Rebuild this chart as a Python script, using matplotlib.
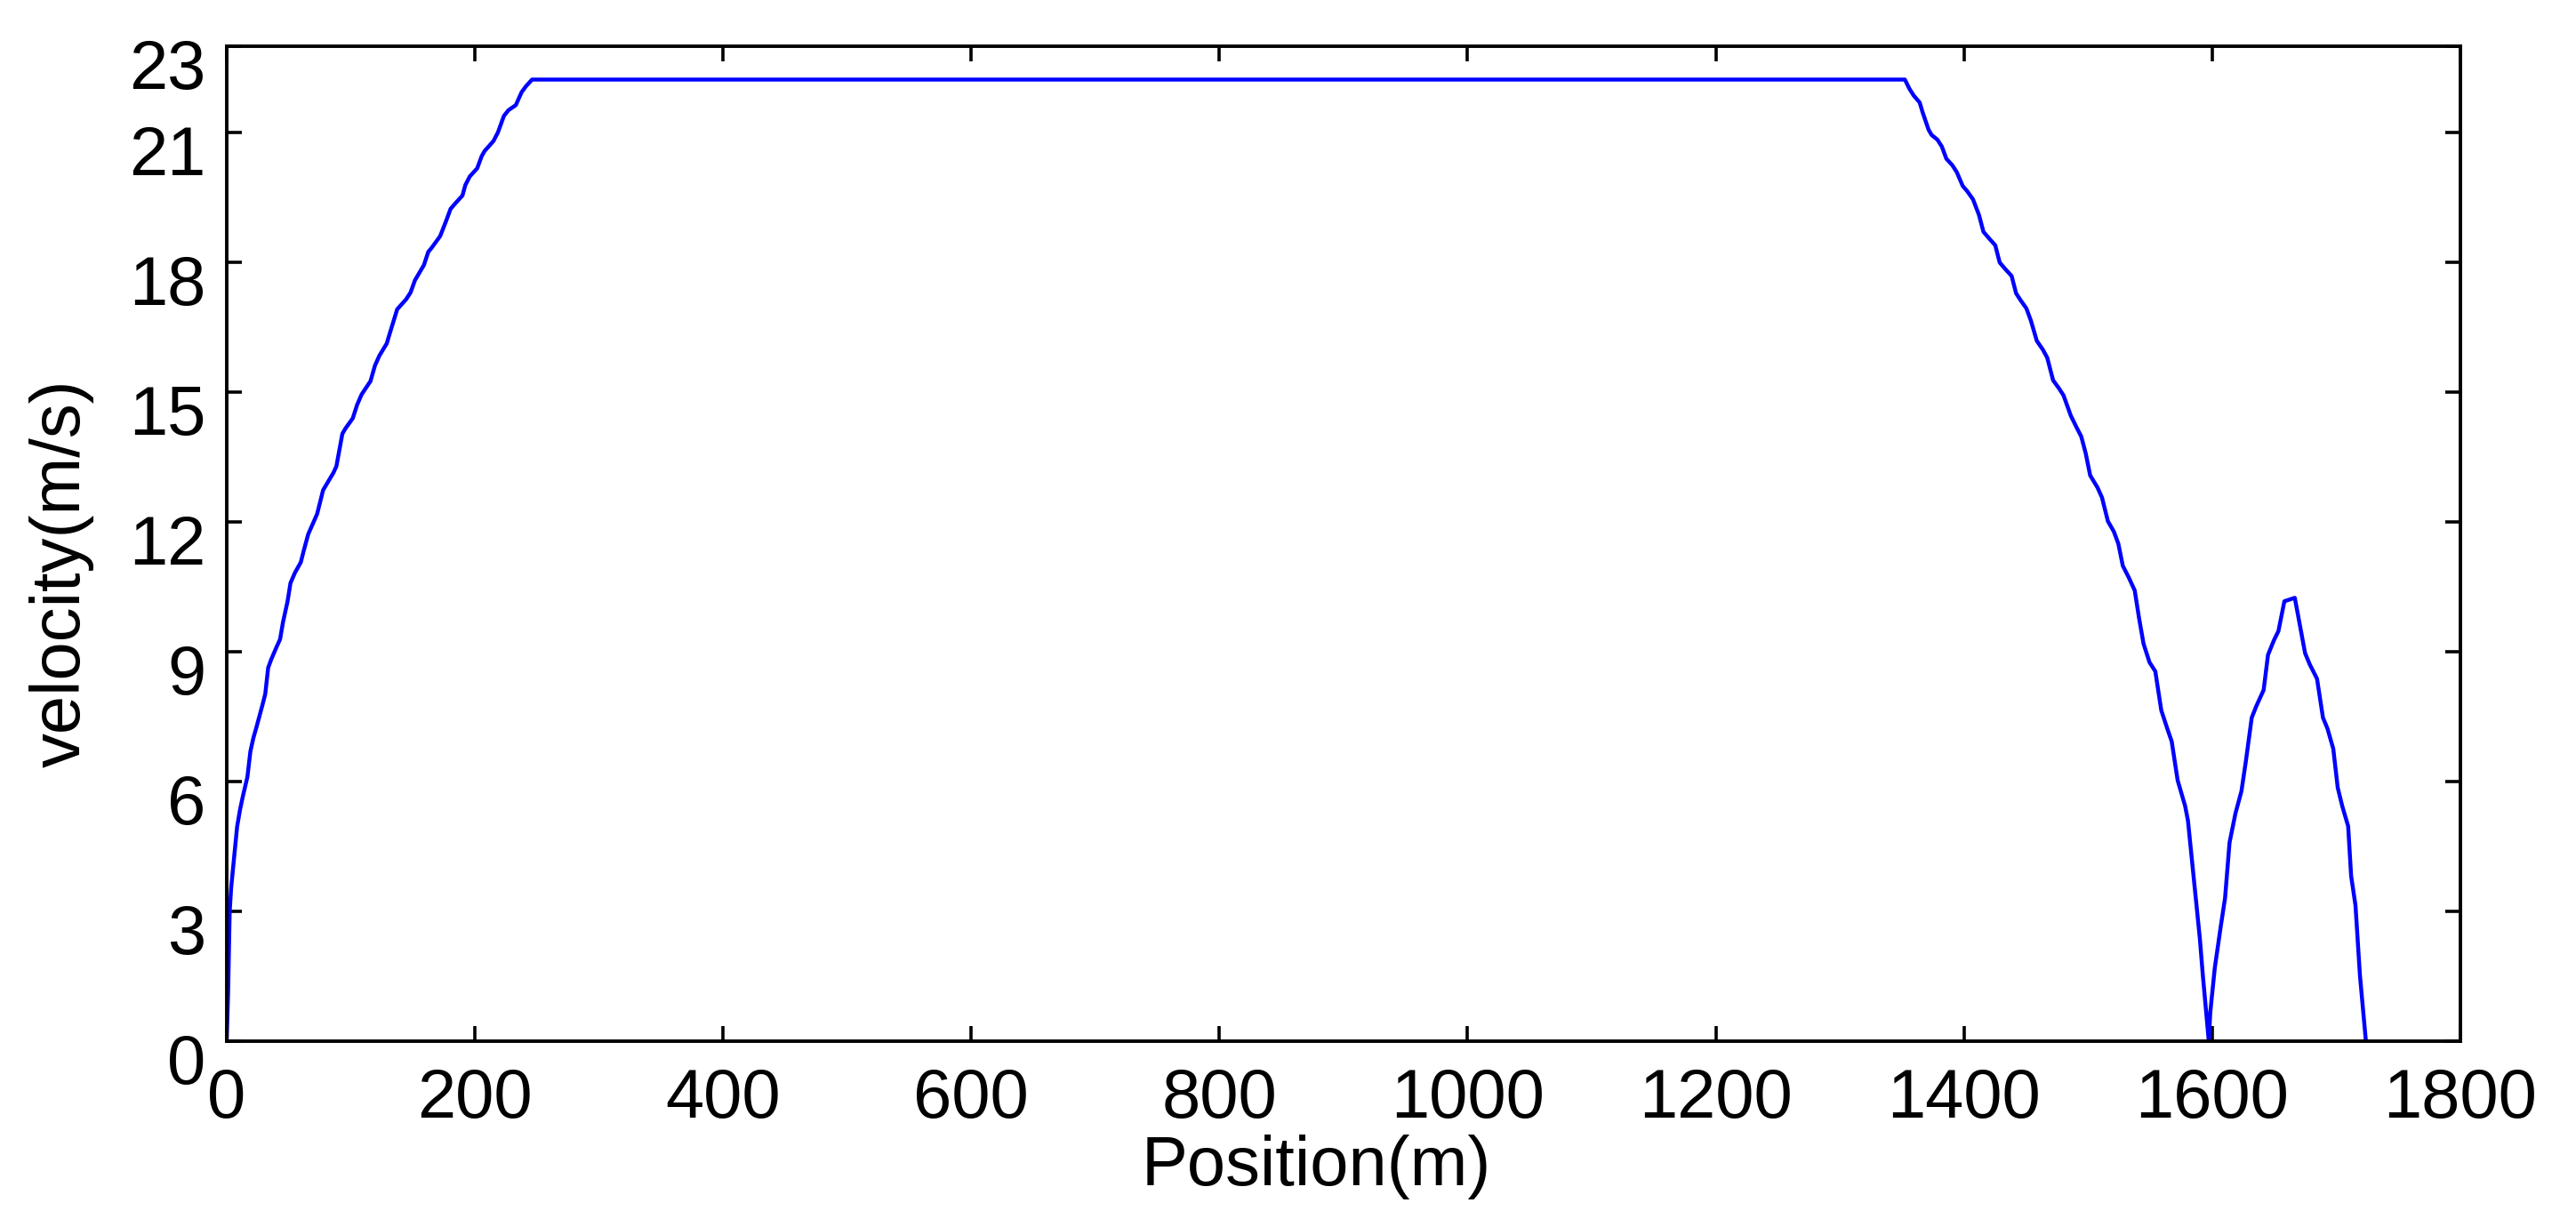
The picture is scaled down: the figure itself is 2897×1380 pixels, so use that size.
#!/usr/bin/env python3
"""Velocity profile vs position (MATLAB-style figure)."""
import matplotlib
matplotlib.use('Agg')
import matplotlib.pyplot as plt
import matplotlib.transforms as mtransforms

plt.rcParams['font.family'] = ['Liberation Sans', 'DejaVu Sans']

# ── data ──
pos_m = [0, 1.2, 2.4, 3.6, 6.0, 8.4, 10.8, 13.1, 16.7, 19.1, 21.5, 23.9, 28.7, 31.1,
         33.4, 35.8, 40.6, 43.0, 45.4, 49.0, 51.4, 55.0, 59.7, 62.1, 65.7, 72.9,
         77.7, 86.0, 88.4, 93.2, 95.6, 101.6, 105.1, 108.7, 115.9, 119.5, 123.1,
         129.0, 131.4, 137.4, 144.6, 148.2, 151.7, 158.9, 162.5, 164.9, 172.0,
         176.8, 180.4, 184.0, 190.0, 192.3, 195.9, 201.9, 205.5, 207.9, 215.0,
         218.6, 223.4, 227.0, 233.0, 237.7, 241.3, 246.1,
         1352.4, 1356.0, 1359.5, 1364.3, 1366.7, 1371.5, 1373.9, 1378.6, 1382.2,
         1385.8, 1390.6, 1394.2, 1399.0, 1402.6, 1407.3, 1412.1, 1415.7, 1420.5,
         1425.2, 1428.8, 1433.6, 1438.4, 1442.0, 1445.6, 1450.3, 1453.9, 1458.7,
         1463.5, 1467.1, 1471.8, 1476.6, 1480.2, 1486.1, 1490.9, 1494.5, 1498.1,
         1501.7, 1507.6, 1511.2, 1516.0, 1520.8, 1524.4, 1528.0, 1532.8,
         1537.6, 1541.1, 1544.7, 1549.5, 1554.2, 1559.0, 1563.8, 1567.4, 1572.2,
         1578.2, 1580.5, 1584.1, 1586.5, 1590.1, 1592.5, 1597.3,
         1598.5, 1602.1, 1606.8, 1610.4, 1614.0, 1618.8, 1623.6, 1627.1, 1631.9,
         1635.5, 1641.5, 1645.0, 1649.8, 1653.4, 1658.2, 1666.6,
         1674.9, 1678.5, 1684.5, 1689.3, 1692.9, 1697.6, 1701.2, 1704.8, 1709.6,
         1712.0, 1715.5, 1719.1, 1723.9]
vel_ms = [0, 1.18, 2.99, 3.55, 4.25, 4.96, 5.36, 5.67, 6.11, 6.70, 7.01, 7.25, 7.76, 8.03,
          8.63, 8.82, 9.14, 9.29, 9.69, 10.16, 10.59, 10.83, 11.07, 11.34, 11.72, 12.19,
          12.74, 13.14, 13.29, 14.04, 14.16, 14.40, 14.71, 14.95, 15.26, 15.62, 15.85,
          16.13, 16.36, 16.92, 17.15, 17.31, 17.59, 17.94, 18.25, 18.33, 18.61,
          18.96, 19.24, 19.36, 19.55, 19.79, 19.99, 20.18, 20.46, 20.58, 20.81,
          21.01, 21.39, 21.52, 21.64, 21.94, 22.08, 22.23,
          22.23, 22.02, 21.86, 21.70, 21.47, 21.07, 20.95, 20.84, 20.68,
          20.40, 20.25, 20.09, 19.77, 19.65, 19.46, 19.10, 18.71, 18.55,
          18.40, 18.00, 17.84, 17.69, 17.29, 17.13, 16.94, 16.66, 16.19,
          15.99, 15.80, 15.28, 15.09, 14.93, 14.46, 14.18, 13.98, 13.59,
          13.08, 12.80, 12.57, 12.02, 11.78, 11.50, 10.99, 10.72,
          10.42, 9.78, 9.19, 8.76, 8.55, 7.65, 7.23, 6.93, 6.03,
          5.44, 5.10, 4.08, 3.39, 2.37, 1.52, 0,
          0.67, 1.69, 2.63, 3.31, 4.59, 5.27, 5.78, 6.46, 7.48,
          7.74, 8.12, 8.93, 9.27, 9.48, 10.17, 10.25,
          8.97, 8.72, 8.38, 7.48, 7.23, 6.76, 5.86, 5.44, 4.97,
          3.82, 3.14, 1.52, 0]

XTICKS = list(range(0, 1801, 200))
YTICKS = [0, 3, 6, 9, 12, 15, 18, 21, 23]

DPI = 200
fig = plt.figure(figsize=(2897 / DPI, 1380 / DPI), dpi=DPI)
ax = fig.add_axes([0.0880, 0.1514, 0.9551 - 0.0880, 0.9623 - 0.1514])

ax.plot(pos_m, vel_ms, color='#0000ff', linewidth=1.6)

ax.set_xlim(0, 1800)
ax.set_ylim(0, 23)
ax.set_xticks(XTICKS)
ax.set_yticks(YTICKS)
ax.tick_params(direction='in', top=True, right=True, length=6, width=1.3,
               labelsize=28, colors='black')
ax.tick_params(axis='x', pad=10.5)
ax.tick_params(axis='y', pad=8.5)
for s in ax.spines.values():
    s.set_linewidth(1.4)

ax.set_xlabel("Position(m)", fontsize=28)
ax.set_ylabel("velocity(m/s)", fontsize=28)
ax.xaxis.label.set_va('baseline')
ax.yaxis.label.set_va('baseline')
ax.xaxis.set_label_coords(0.488, -0.1448)
ax.yaxis.set_label_coords(-0.0657, 0.470)

# MATLAB drew the y tick labels a little below their ticks
shift = mtransforms.ScaledTranslation(0, -19 / DPI, fig.dpi_scale_trans)
for lab in ax.get_yticklabels():
    lab.set_transform(lab.get_transform() + shift)

fig.savefig("out.png", dpi=DPI)
plt.close(fig)
print("out.png done")
